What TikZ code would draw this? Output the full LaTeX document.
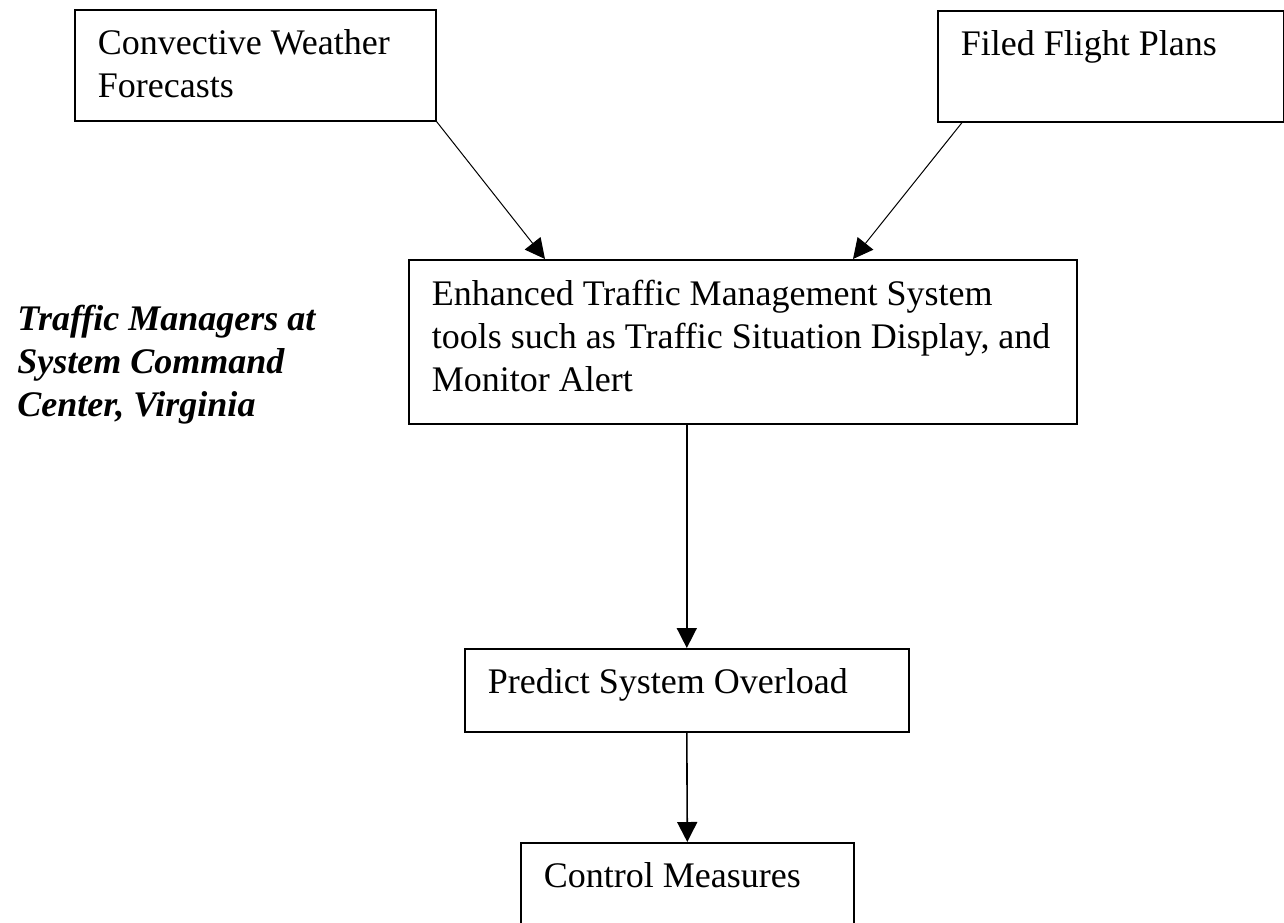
\documentclass[tikz,border=0pt]{standalone}
\usepackage{fontspec}
\setmainfont{Liberation Serif}
\usetikzlibrary{arrows.meta}
\tikzset{
    flow-box/.style = {draw, line width=0.8pt, rectangle, anchor=north west, inner xsep=11.5pt, inner ysep=10pt, font=\fontsize{18}{21.5}\selectfont},
    flow-label/.style = {anchor=north west, align=left, inner sep=0pt, font=\fontsize{18}{21.5}\selectfont\bfseries\itshape},
    flow-arrow/.style = {-{Triangle[length=10pt,width=10pt]}},
}
\newcommand{\flowtext}[3]{\parbox[t][#2][t]{#1}{\raggedright #3}}

\begin{document}
\begin{tikzpicture}[x=0.5pt,y=-0.5pt]
\useasboundingbox (0,0) rectangle (1284,922);
% inputs
\node [flow-box] (conv) at (74,9) {\flowtext{157.5pt}{35.5pt}{Convective Weather\\Forecasts}};
\node [flow-box] (filed) at (937,10) {\flowtext{150pt}{35.5pt}{Filed Flight Plans}};
% tools
\node [flow-box] (etms) at (408,259) {\flowtext{311pt}{62pt}{Enhanced Traffic Management System\\tools such as Traffic Situation Display, and\\Monitor Alert}};
\node [flow-label] (who) at (17,305) {Traffic Managers at\\System Command\\Center, Virginia};
% outputs
\node [flow-box] (predict) at (464,648) {\flowtext{199pt}{21.5pt}{Predict System Overload}};
\node [flow-box] (control) at (520,842) {\flowtext{143.5pt}{30pt}{Control Measures}};

\draw [flow-arrow, line width=0.5pt] (conv.south east) -- ([xshift=68.5pt]etms.north west);
\draw [flow-arrow, line width=0.5pt] ([xshift=12.5pt]filed.south west) -- ([xshift=222.5pt]etms.north west);
\draw [flow-arrow, line width=0.8pt] (predict.north |- etms.south) -- (predict.north);
\draw [flow-arrow, line width=0.8pt] (predict.south) -- (control.north);
\end{tikzpicture}
\end{document}
